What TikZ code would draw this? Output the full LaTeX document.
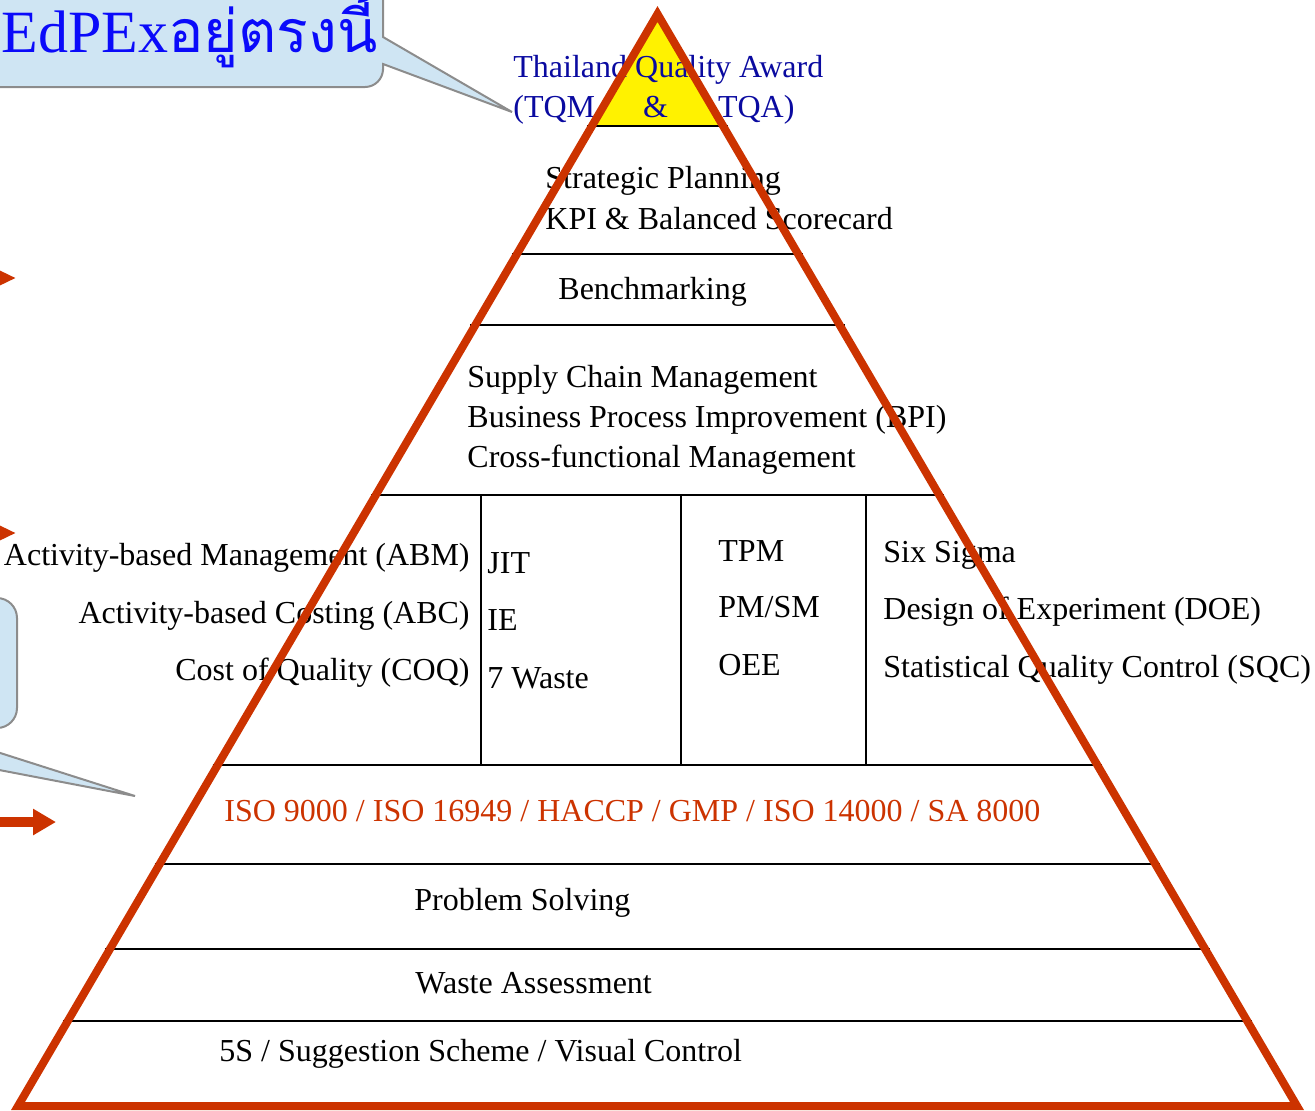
\documentclass[tikz,border=0pt]{standalone}
\usepackage{fontspec}
\setmainfont{Liberation Serif}
\newfontfamily\thaifont[Script=Thai]{Loma}
\usetikzlibrary{arrows.meta}
\usetikzlibrary{calc}

\definecolor{pyrred}{RGB}{204,51,0}
\definecolor{awardblue}{RGB}{10,10,160}
\definecolor{herebule}{RGB}{10,10,250}
\definecolor{calloutblue}{RGB}{207,229,243}
\definecolor{callgray}{RGB}{140,140,140}
\newcommand{\pyrfont}{\fontsize{16}{19}\selectfont}

\begin{document}
\begin{tikzpicture}[x=0.5pt,y=-0.5pt,
    lbl/.style={font=\pyrfont, inner sep=0pt, anchor=base west},
    lblr/.style={lbl, anchor=base east},
    callout/.style={fill=calloutblue, draw=callgray, line width=1pt},
    redarrow/.style={pyrred, line width=5pt}]
  \useasboundingbox (0,0) rectangle (1315,1110);
  \clip (0,0) rectangle (1315,1110);

  % callouts
  \filldraw[callout] (-40,-40) -- (383,-40) -- (383,37) -- (512,112) -- (383,64) -- (383,70)
     [rounded corners=9pt] -- (383,87) -- (300,87) [sharp corners] -- (-40,87) -- cycle;
  \node[anchor=base east, inner sep=0pt, text=herebule, font=\fontsize{30}{31}\selectfont]
     (here) at (378,52) {EdPEx{\thaifont\fontsize{29.5}{30}\selectfont อยู่ตรงนี้}};
  \filldraw[callout] (-260,598) -- (-60,598) [rounded corners=10pt] -- (17,598) -- (17,728)
     -- (-40,728) [sharp corners] -- (-78,728) -- (135,796) -- (-220,728) -- (-260,728) -- cycle;

  % arrows at the left edge
  \coordinate (arrA0) at (-60,278);  \coordinate (arrA1) at (16,278);
  \coordinate (arrB0) at (-60,533);  \coordinate (arrB1) at (16,533);
  \coordinate (arrC0) at (-60,822);  \coordinate (arrC1) at (56,822);
  \draw[redarrow, -{Triangle[length=10.5pt,width=9pt]}] (arrA0) -- (arrA1);
  \draw[redarrow, -{Triangle[length=10.5pt,width=9pt]}] (arrB0) -- (arrB1);
  \draw[redarrow, -{Triangle[length=11.5pt,width=12.5pt]}] (arrC0) -- (arrC1);

  % pyramid
  \coordinate (apex) at (657.5,14);
  \coordinate (bl) at (18,1106);
  \coordinate (br) at (1297,1106);
  \fill[yellow] (apex) -- ($(apex)!0.1026!(bl)$) -- ($(apex)!0.1026!(br)$) -- cycle;
  \foreach \t in {0.1026,0.2198,0.2848,0.4405,0.6877,0.7784,0.8562,0.9222}
    \draw[line width=0.8pt] ([xshift=-2.5pt]$(apex)!\t!(bl)$) -- ([xshift=2.5pt]$(apex)!\t!(br)$);
  \foreach \x in {481,681,866}
    \draw[line width=0.8pt] (\x,495) -- (\x,765);

  \node[lbl, text=awardblue] (tqa1) at (513,77) {Thailand Quality Award};
  \node[lbl, text=awardblue] (tqa2) at (513,117) {(TQM\hspace{24pt}\&\hspace{25pt}TQA)};
  \node[lbl] (plan1) at (545,188) {Strategic Planning};
  \node[lbl] (plan2) at (545,229) {KPI \& Balanced Scorecard};
  \node[lbl] (bench) at (558,299) {Benchmarking};
  \node[lbl] (scm1) at (467,387) {Supply Chain Management};
  \node[lbl] (scm2) at (467,427) {Business Process Improvement (BPI)};
  \node[lbl] (scm3) at (467,467) {Cross-functional Management};
  \node[lblr] (abm1) at (470,565) {Activity-based Management (ABM)};
  \node[lblr] (abm2) at (470,623) {Activity-based Costing (ABC)};
  \node[lblr] (abm3) at (470,680) {Cost of Quality (COQ)};
  \node[lbl] (jit1) at (487,573) {JIT};
  \node[lbl] (jit2) at (487,630) {IE};
  \node[lbl] (jit3) at (487,688) {7 Waste};
  \node[lbl] (tpm1) at (718,561) {TPM};
  \node[lbl] (tpm2) at (718,617) {PM/SM};
  \node[lbl] (tpm3) at (718,675) {OEE};
  \node[lbl] (six1) at (883,562) {Six Sigma};
  \node[lbl] (six2) at (883,619) {Design of Experiment (DOE)};
  \node[lbl] (six3) at (883,677) {Statistical Quality Control (SQC)};
  \node[lbl, text=pyrred] (iso) at (224,821) {ISO 9000 / ISO 16949 / HACCP / GMP / ISO 14000 / SA 8000};
  \node[lbl] (solve) at (414,910) {Problem Solving};
  \node[lbl] (waste) at (415,993) {Waste Assessment};
  \node[lbl] (fives) at (219,1061) {5S / Suggestion Scheme / Visual Control};

  \draw[pyrred, line width=4pt, line join=miter] (apex) -- (br) -- (bl) -- cycle;
\end{tikzpicture}
\end{document}
